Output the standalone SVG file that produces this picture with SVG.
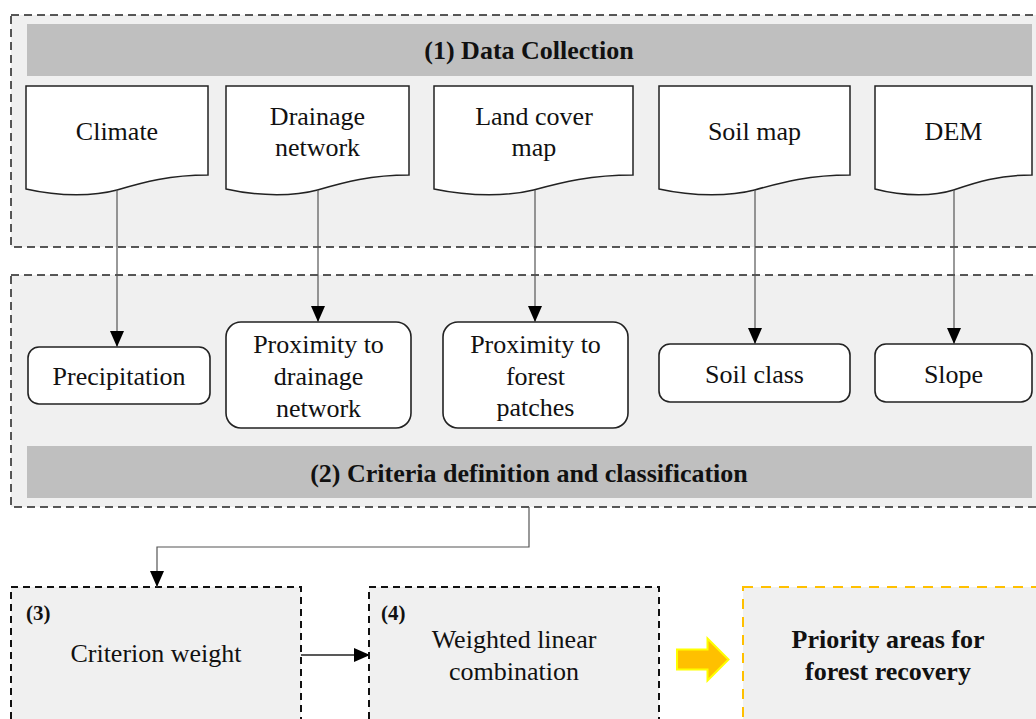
<svg xmlns="http://www.w3.org/2000/svg" width="1036" height="719" viewBox="0 0 1036 719">
<style>
.t{font-family:'Liberation Serif','Times New Roman','DejaVu Serif',serif;font-size:26px;fill:#111;text-anchor:middle}
.b{font-weight:bold}
.grp{fill:#f0f0f0;stroke:#222;stroke-width:1.5;stroke-dasharray:8 5}
.step{fill:#f0f0f0;stroke:#111;stroke-width:2;stroke-dasharray:7 5}
.bar{fill:#bfbfbf}
.doc{fill:#fff;stroke:#222;stroke-width:1.5}
.rbox{fill:#fff;stroke:#222;stroke-width:1.6}
.conn{fill:none;stroke:#555;stroke-width:1.2}
</style>
<defs>
<marker id="ah" viewBox="0 0 16 14" refX="16" refY="7" markerWidth="16" markerHeight="14" markerUnits="userSpaceOnUse" orient="auto">
<path d="M0,0 L16,7 L0,14 Z" fill="#000"/>
</marker>
</defs>
<rect width="1036" height="719" fill="#fff"/>
<g font-family="'Liberation Serif', 'Times New Roman', serif">
<g id="group1">
<rect class="grp" x="11" y="15" width="1040" height="232"/>
<rect class="bar" x="27" y="24" width="1005" height="52"/>
<text class="t b" x="529" y="59">(1) Data Collection</text>
</g>
<g id="group2">
<rect class="grp" x="11" y="275" width="1040" height="232"/>
<rect class="bar" x="27" y="446" width="1005" height="52"/>
<text class="t b" x="529" y="482">(2) Criteria definition and classification</text>
</g>
<g id="climate" transform="translate(26,86)">
<path class="doc" d="M0,0 H182 V89 C144,89 118,96 91,104 C69,110 35,111 0,103 Z"/>
<text class="t" x="91" y="54">Climate</text>
</g>
<g id="drainage" transform="translate(226,86)">
<path class="doc" d="M0,0 H183 V89 C145,89 119,96 91.5,104 C69.5,110 35,111 0,103 Z"/>
<text class="t" x="91.5" y="39">Drainage</text>
<text class="t" x="91.5" y="70">network</text>
</g>
<g id="landcover" transform="translate(434,86)">
<path class="doc" d="M0,0 H199 V89 C157,89 129,96 99.5,104 C75.6,110 38,111 0,103 Z"/>
<text class="t" x="100" y="39">Land cover</text>
<text class="t" x="100" y="70">map</text>
</g>
<g id="soilmap" transform="translate(659,86)">
<path class="doc" d="M0,0 H191 V89 C151,89 124,96 95.5,104 C72.6,110 36,111 0,103 Z"/>
<text class="t" x="95.5" y="54">Soil map</text>
</g>
<g id="dem" transform="translate(875,86)">
<path class="doc" d="M0,0 H157 V89 C124,89 102,96 78.5,104 C59.7,110 30,111 0,103 Z"/>
<text class="t" x="78.5" y="54">DEM</text>
</g>
<g id="precipitation">
<rect class="rbox" x="28" y="347" width="182" height="57" rx="11"/>
<text class="t" x="119" y="385">Precipitation</text>
</g>
<g id="proxdrainage">
<rect class="rbox" x="226" y="322" width="185" height="106" rx="15"/>
<text class="t" x="318.5" y="353">Proximity to</text>
<text class="t" x="318.5" y="385">drainage</text>
<text class="t" x="318.5" y="417">network</text>
</g>
<g id="proxforest">
<rect class="rbox" x="443" y="322" width="185" height="106" rx="15"/>
<text class="t" x="535.5" y="353">Proximity to</text>
<text class="t" x="535.5" y="385">forest</text>
<text class="t" x="535.5" y="416">patches</text>
</g>
<g id="soilclass">
<rect class="rbox" x="659" y="344" width="191" height="58" rx="11"/>
<text class="t" x="754.5" y="383">Soil class</text>
</g>
<g id="slope">
<rect class="rbox" x="875" y="344" width="157" height="58" rx="11"/>
<text class="t" x="953.5" y="383">Slope</text>
</g>
<g id="step3">
<rect class="step" x="11" y="587" width="290" height="160"/>
<text class="t b" x="26" y="620" style="text-anchor:start;font-size:21px">(3)</text>
<text class="t" x="156" y="662">Criterion weight</text>
</g>
<g id="step4">
<rect class="step" x="369" y="587" width="290" height="160"/>
<text class="t b" x="381" y="620" style="text-anchor:start;font-size:21px">(4)</text>
<text class="t" x="514" y="648">Weighted linear</text>
<text class="t" x="514" y="680">combination</text>
</g>
<g id="result">
<rect x="743" y="587" width="310" height="160" fill="#f0f0f0" stroke="#ffc000" stroke-width="2" stroke-dasharray="10 8"/>
<text class="t b" x="888" y="648">Priority areas for</text>
<text class="t b" x="888" y="680">forest recovery</text>
</g>
</g>
<g id="connectors">
<line class="conn" x1="117" y1="190" x2="117" y2="347" marker-end="url(#ah)"/>
<line class="conn" x1="318" y1="190" x2="318" y2="322" marker-end="url(#ah)"/>
<line class="conn" x1="535" y1="190" x2="535" y2="322" marker-end="url(#ah)"/>
<line class="conn" x1="755" y1="190" x2="755" y2="344" marker-end="url(#ah)"/>
<line class="conn" x1="954" y1="190" x2="954" y2="344" marker-end="url(#ah)"/>
<path class="conn" d="M529,507 V547 H157 V587" marker-end="url(#ah)"/>
<path d="M301,655 H370" fill="none" stroke="#222" stroke-width="1.6" marker-end="url(#ah)"/>
<path d="M677,649.5 H707.5 V638.5 L728.5,659.5 L707.5,680.5 V669.5 H677 Z" fill="#ffc000" stroke="#ffff00" stroke-width="2"/>
</g>
</svg>
